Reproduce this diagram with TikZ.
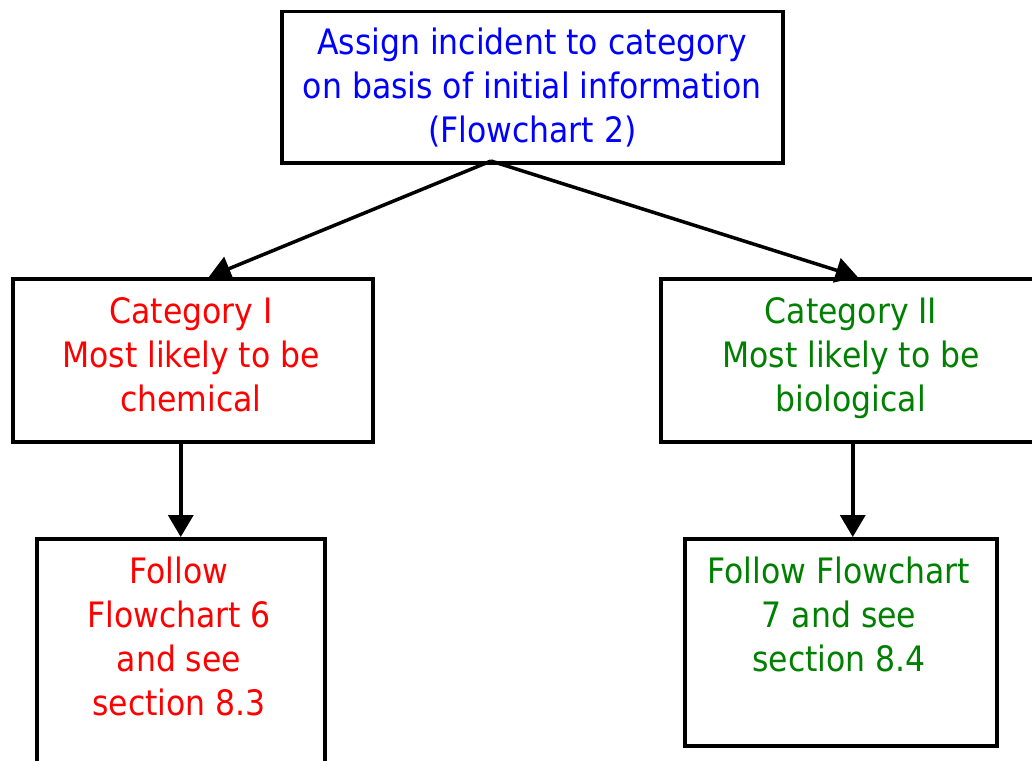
\documentclass[tikz,border=0pt]{standalone}
\usepackage{fontspec}
\setmainfont{DejaVu Sans Condensed}
\usetikzlibrary{arrows.meta}
\definecolor{catblue}{RGB}{0,0,255}
\definecolor{catred}{RGB}{255,0,0}
\definecolor{catgreen}{RGB}{0,128,0}
\begin{document}
\begin{tikzpicture}[x=1pt,y=-1pt,
  box/.style={draw, line width=3.5pt, inner sep=0pt, anchor=north west},
  txt/.style={font=\fontsize{35}{44}\selectfont, align=center, inner sep=0pt},
  flow/.style={line width=3.5pt, -{Triangle[width=25pt,length=22pt]}}]
\useasboundingbox (0,0) rectangle (1032,760);
\clip (0,0) rectangle (1032,760);

% top decision box
\node[box, txt, text=catblue, minimum width=501pt, minimum height=151pt] (assign) at (280,10)
  {Assign incident to category\\on basis of initial information\\(Flowchart 2)};

% the two categories
\node[box, minimum width=360pt, minimum height=163pt] (catI) at (11,277) {};
\node[box, minimum width=384pt, minimum height=163pt] (catII) at (659,277) {};
\node[txt, text=catred, anchor=north] (catItext) at (191,297)
  {Category I\\Most likely to be\\chemical};
\node[txt, text=catgreen, anchor=north] (catIItext) at (851,297)
  {Category II\\Most likely to be\\biological};

% follow-up boxes
\node[box, minimum width=288pt, minimum height=260pt] (fc6) at (35,537) {};
\node[box, minimum width=312pt, minimum height=207pt] (fc7) at (683,537) {};
\node[txt, text=catred, anchor=north] (fc6text) at (179,557)
  {Follow\\Flowchart 6\\and see\\section 8.3};
\node[txt, text=catgreen, anchor=north] (fc7text) at (839,557)
  {Follow Flowchart\\7 and see\\section 8.4};

% connectors
\coordinate (split) at (491,161);
\draw[flow] (split) -- ([xshift=16pt]catI.north);
\draw[flow] (split) -- ([xshift=5pt]catII.north);
\draw[flow] (catI.south -| fc6.north) -- (fc6.north);
\draw[flow] (catII.south) -- (catII.south |- fc7.north);
\end{tikzpicture}
\end{document}
